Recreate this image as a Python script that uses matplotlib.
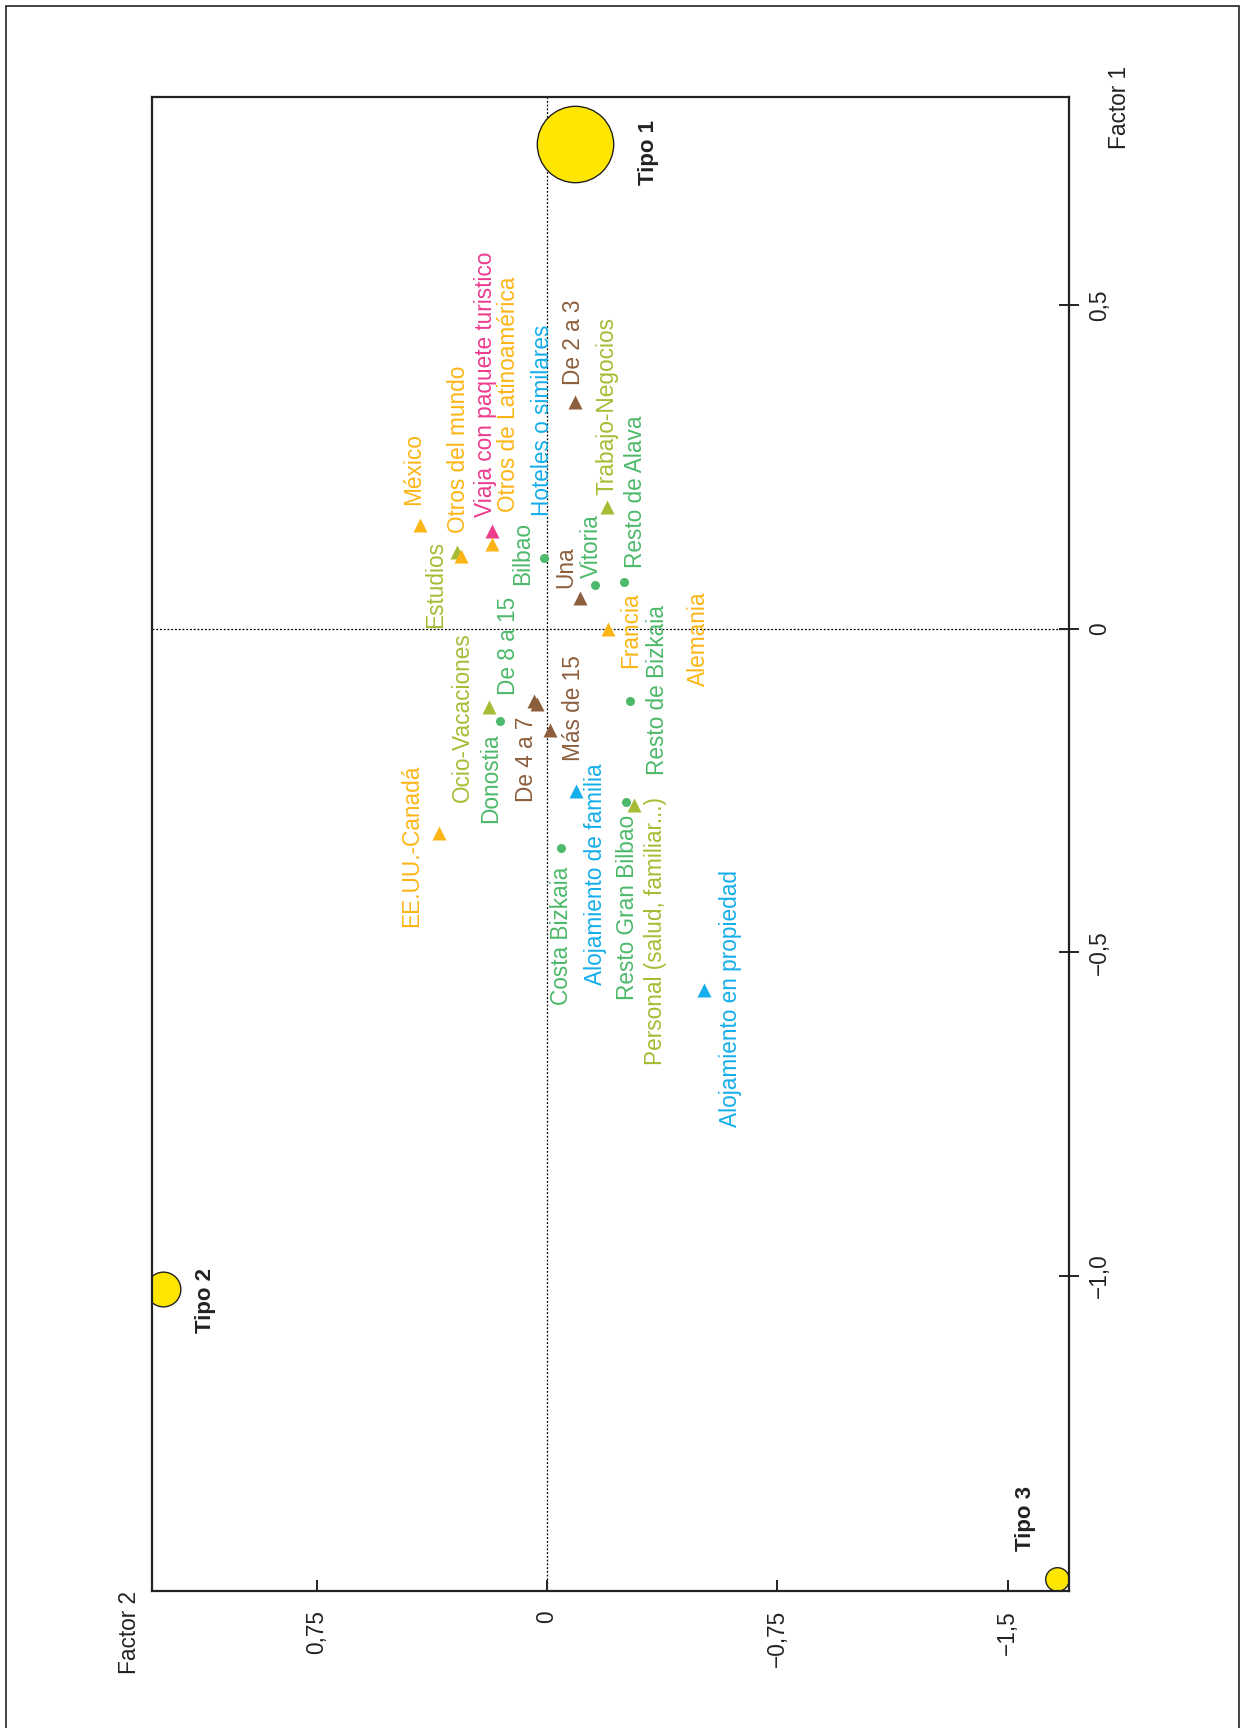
import matplotlib.pyplot as plt
from matplotlib.patches import Rectangle

plt.rcParams['font.family'] = ['Liberation Sans', 'DejaVu Sans']

# Categorías (coordenadas en los factores 1 y 2)
etiquetas = ['México', 'Estudios', 'Otros del mundo', 'Viaja con paquete turistico',
             'Otros de Latinoamérica', 'Bilbao', 'De 2 a 3', 'Trabajo-Negocios',
             'Resto de Alava', 'Vitoria', 'Una', 'Francia', 'Ocio-Vacaciones',
             'De 8 a 15', 'De 4 a 7', 'Más de 15', 'Donostia', 'Resto de Bizkaia',
             'Alojamiento de familia', 'EE.UU.-Canadá', 'Resto Gran Bilbao',
             'Personal (salud, familiar...)', 'Costa Bizkaia', 'Alojamiento en propiedad']
factor1 = [0.161, 0.119, 0.112, 0.152, 0.131, 0.109, 0.351, 0.189, 0.073, 0.068, 0.047, 0.0,
           -0.120, -0.112, -0.116, -0.156, -0.143, -0.111, -0.250, -0.316, -0.268, -0.272,
           -0.339, -0.558]
factor2 = [0.413, 0.293, 0.282, 0.181, 0.181, 0.011, -0.092, -0.195, -0.250, -0.157, -0.107,
           -0.198, 0.190, 0.043, 0.033, -0.011, 0.154, -0.271, -0.095, 0.353, -0.258, -0.284,
           -0.046, -0.512]
grupo = ['pais', 'motivo', 'pais', 'paquete', 'pais', 'zona', 'noches', 'motivo', 'zona',
         'zona', 'noches', 'pais', 'motivo', 'noches', 'noches', 'noches', 'zona', 'zona',
         'alojamiento', 'pais', 'zona', 'motivo', 'zona', 'alojamiento']

# Etiquetas sin marcador visible
solo_texto = ['Hoteles o similares', 'Alemania']
solo_f1 = [0.174, -0.089]
solo_f2 = [0.014, -0.494]
solo_grupo = ['alojamiento', 'pais']

# Tipologías
tipos = ['Tipo 1', 'Tipo 2', 'Tipo 3']
tipo_f1 = [0.750, -1.021, -1.468]
tipo_f2 = [-0.091, 1.252, -1.661]

# estilo
colores = {'pais': '#FDB515', 'motivo': '#A4BD34', 'paquete': '#EC3C8E',
           'zona': '#4DB96A', 'noches': '#8C5E3C', 'alojamiento': '#14AEEA'}
tam_tipo = [55, 25, 17]
# desplazamiento de cada etiqueta (px, x derecha / y abajo)
desp = [(-6.6, -20), (-21.7, 76.3), (-1.6, -23.4), (-6, -14), (17.4, -32.3), (-20.7, 26.7),
        (-2.3, -16.7), (0, -12), (11.6, -13.4), (-4.3, -6.7), (-14.4, -10), (22.6, 39),
        (-26.7, 95), (-25, -6.7), (-10, 97.7), (23.4, 31.7), (-9.4, 101.6), (26.7, 74.3),
        (19.7, 194.3), (-26.7, 93.4), (0.7, 197.7), (21, 260), (0, 156.7), (26, 136.7)]
desp_tipo = [(73, 41), (42.8, 43.5), (-32, -27.3)]

W, H = 1241, 1728
fig = plt.figure(figsize=(W / 100, H / 100), dpi=100)
ax = fig.add_axes([152 / W, 1 - 1591 / H, 917 / W, 1494 / H])
ax.set_xlim(1.287, -1.700)
ax.set_ylim(-1.487, 0.822)

ax.axhline(0, color='k', lw=0.9, ls=(0, (1.5, 1.5)), zorder=1)
ax.axvline(0, color='k', lw=0.9, ls=(0, (1.5, 1.5)), zorder=1)

fs = 16.3
for i, txt in enumerate(etiquetas):
    g = grupo[i]
    m = 'o' if g == 'zona' else '^'
    ms = 6.5 if g == 'zona' else 9.5
    ax.plot(factor2[i], factor1[i], m, ms=ms, color=colores[g], mec='none', zorder=3)
    ctxt = colores['zona'] if txt == 'De 8 a 15' else colores[g]
    dx, dy = desp[i]
    ax.annotate(txt, (factor2[i], factor1[i]), xytext=(dx * 0.72, -dy * 0.72),
                textcoords='offset points', rotation=90, rotation_mode='anchor',
                ha='left', va='center', fontsize=fs, color=ctxt, zorder=4)

for i, txt in enumerate(solo_texto):
    ax.text(solo_f2[i], solo_f1[i], txt, rotation=90, rotation_mode='anchor',
            ha='left', va='center', fontsize=fs, color=colores[solo_grupo[i]], zorder=4)

for i, txt in enumerate(tipos):
    ax.plot(tipo_f2[i], tipo_f1[i], 'o', ms=tam_tipo[i], mfc='#FFE600', mec='#222222',
            mew=1.0, zorder=2)
    dx, dy = desp_tipo[i]
    ax.annotate(txt, (tipo_f2[i], tipo_f1[i]), xytext=(dx * 0.72, -dy * 0.72),
                textcoords='offset points', rotation=90, rotation_mode='anchor',
                ha='left', va='center', fontsize=16, fontweight='bold', color='#222222')

# ejes
for s in ax.spines.values():
    s.set_linewidth(1.6)
    s.set_color('#222222')
ax.yaxis.tick_right()
ax.set_yticks([0.5, 0, -0.5, -1.0])
ax.set_yticklabels(['0,5', '0', '\u22120,5', '\u22121,0'])
ax.set_xticks([0.75, 0, -0.75, -1.5])
ax.set_xticklabels(['0,75', '0', '\u22120,75', '\u22121,5'])
ax.tick_params(axis='y', direction='inout', length=14, width=1.4, pad=6.5,
               labelsize=fs, labelrotation=90, colors='#222222')
ax.tick_params(axis='x', direction='in', length=8, width=1.4, pad=13.7,
               labelsize=fs, labelrotation=90, colors='#222222')
for lab in ax.get_yticklabels():
    lab.set_va('center')

fig.text(1119 / W, 1 - 107 / H, 'Factor 1', rotation=90, ha='center', va='center',
         fontsize=fs, color='#222222')
fig.text(129 / W, 1 - 1632 / H, 'Factor 2', rotation=90, ha='center', va='center',
         fontsize=fs, color='#222222')

fig.patches.append(Rectangle((6 / W, -0.01), 1233 / W, 1 - 6 / H + 0.01,
                             transform=fig.transFigure, fill=False, lw=1.2, ec='#222222'))

fig.savefig('out.png', dpi=100)
